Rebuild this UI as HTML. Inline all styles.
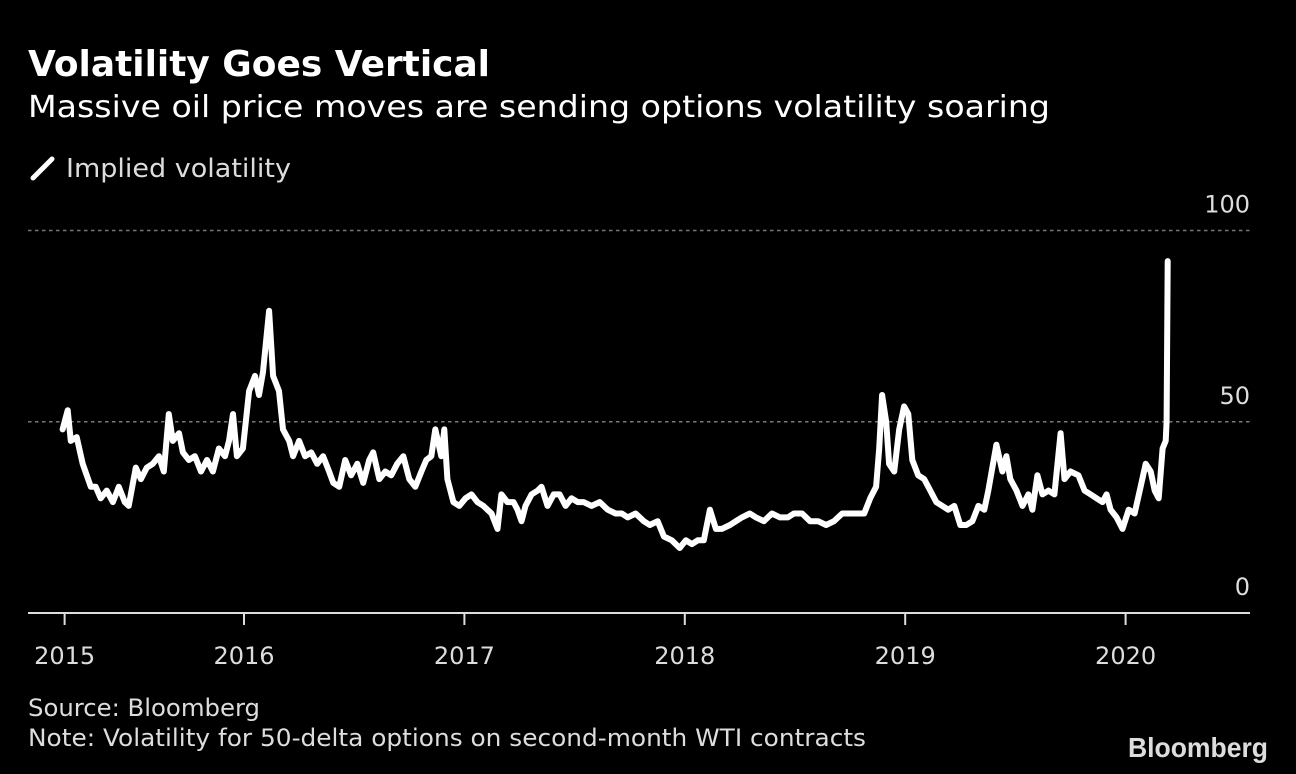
<!DOCTYPE html>
<html><head><meta charset="utf-8"><style>
html,body{margin:0;padding:0;background:#000;}
svg{display:block;}
text{font-family:"DejaVu Sans","Liberation Sans",sans-serif;}
</style></head><body>
<svg id="chart" width="1296" height="774" viewBox="0 0 1296 774" xmlns="http://www.w3.org/2000/svg">
<rect width="1296" height="774" fill="#000"/>
<text x="28" y="76" font-size="36" font-weight="bold" fill="#fff" textLength="462" lengthAdjust="spacingAndGlyphs">Volatility Goes Vertical</text>
<text x="28" y="117" font-size="30" fill="#fff" textLength="1022" lengthAdjust="spacingAndGlyphs">Massive oil price moves are sending options volatility soaring</text>
<line x1="33" y1="178" x2="52" y2="159" stroke="#fff" stroke-width="5" stroke-linecap="round"/>
<text x="66" y="177" font-size="26" fill="#ddd" textLength="225" lengthAdjust="spacingAndGlyphs">Implied volatility</text>
<g id="grid"></g>
<g id="yticks"></g>
<g id="xaxis"></g>
<path id="series" fill="none" stroke="#fff" stroke-width="6" stroke-linejoin="round" stroke-linecap="round"/>
<text x="28" y="716" font-size="24" fill="#ddd" textLength="232" lengthAdjust="spacingAndGlyphs">Source: Bloomberg</text>
<text x="28" y="746" font-size="24" fill="#ddd" textLength="838" lengthAdjust="spacingAndGlyphs">Note: Volatility for 50-delta options on second-month WTI contracts</text>
<text x="1128" y="757" font-size="28" font-weight="bold" fill="#ddd" style="font-family:'Liberation Sans',sans-serif" textLength="140" lengthAdjust="spacingAndGlyphs">Bloomberg</text>
</svg>
<script>
const dates = [2015.177,2015.200,2015.214,2015.241,2015.268,2015.305,2015.327,2015.350,2015.377,2015.405,2015.432,2015.459,2015.477,2015.509,2015.532,2015.559,2015.586,2015.614,2015.636,2015.659,2015.677,2015.705,2015.723,2015.750,2015.777,2015.805,2015.832,2015.859,2015.886,2015.914,2015.932,2015.950,2015.968,2015.995,2016.023,2016.050,2016.068,2016.086,2016.114,2016.132,2016.159,2016.177,2016.205,2016.223,2016.250,2016.277,2016.305,2016.332,2016.359,2016.386,2016.405,2016.432,2016.459,2016.486,2016.514,2016.541,2016.568,2016.586,2016.614,2016.641,2016.668,2016.695,2016.723,2016.750,2016.777,2016.805,2016.827,2016.850,2016.868,2016.895,2016.909,2016.923,2016.950,2016.977,2017.005,2017.032,2017.059,2017.086,2017.123,2017.150,2017.168,2017.195,2017.223,2017.241,2017.259,2017.277,2017.305,2017.332,2017.350,2017.377,2017.405,2017.432,2017.459,2017.486,2017.514,2017.541,2017.577,2017.614,2017.650,2017.686,2017.714,2017.741,2017.777,2017.814,2017.841,2017.877,2017.905,2017.941,2017.977,2018.005,2018.032,2018.059,2018.086,2018.114,2018.141,2018.168,2018.205,2018.232,2018.259,2018.295,2018.323,2018.359,2018.395,2018.432,2018.468,2018.495,2018.532,2018.568,2018.605,2018.641,2018.677,2018.714,2018.750,2018.786,2018.814,2018.841,2018.868,2018.882,2018.895,2018.914,2018.927,2018.950,2018.973,2018.995,2019.014,2019.032,2019.059,2019.086,2019.114,2019.141,2019.168,2019.195,2019.223,2019.250,2019.277,2019.305,2019.332,2019.359,2019.377,2019.414,2019.441,2019.459,2019.477,2019.505,2019.532,2019.559,2019.577,2019.600,2019.623,2019.650,2019.677,2019.705,2019.723,2019.750,2019.786,2019.814,2019.841,2019.868,2019.895,2019.914,2019.932,2019.959,2019.986,2020.014,2020.041,2020.068,2020.091,2020.114,2020.132,2020.150,2020.168,2020.182,2020.186,2020.191];
const vols = [48,53,45,46,39,33,33,30,32,29,33,29,28,38,35,38,39,41,37,52,45,47,42,40,41,37,40,37,43,41,45,52,41,43,58,62,57,63,79,62,58,48,45,41,45,41,42,39,41,37,34,33,40,36,39,34,40,42,35,37,36,39,41,35,33,37,40,41,48,41,48,35,29,28,30,31,29,28,26,22,31,29,29,27,24,28,31,32,33,28,31,31,28,30,29,29,28,29,27,26,26,25,26,24,23,24,20,19,17,19,18,19,19,27,22,22,23,24,25,26,25,24,26,25,25,26,26,24,24,23,24,26,26,26,26,30,33,43,57,50,39,37,48,54,52,40,36,35,32,29,28,27,28,23,23,24,28,27,32,44,37,41,35,32,28,31,27,36,31,32,31,47,35,37,36,32,31,30,29,31,27,25,22,27,26,33,39,37,32,30,43,45,50,92];
const yTicks = [0,50,100];
const xTickYears = [2015,2016,2017,2018,2019,2020];
const xTickLabels = ["2015","2016","2017","2018","2019","2020"];

const NS = "http://www.w3.org/2000/svg";
const X0 = 28, X1 = 1250, Y0 = 613, Y100 = 230.5;
function xScale(t){ return 244 + (t - 2016) * 220.4; }
function yScale(v){ return Y0 + (Y100 - Y0) * v / 100; }
function mk(tag, attrs, parent){ const e = document.createElementNS(NS, tag); for (const k in attrs) e.setAttribute(k, attrs[k]); parent.appendChild(e); return e; }

const grid = document.getElementById('grid');
const yt = document.getElementById('yticks');
yTicks.forEach(v => {
  const y = yScale(v);
  if (v !== 0) {
    const l = mk('line', {x1:X0, x2:X1, y1:y, y2:y, stroke:'#777', 'stroke-width':1.5, 'stroke-dasharray':'3.5 3.5'}, grid);
    
    
  }
  const t = mk('text', {x:X1, y:y - 18, 'text-anchor':'end', 'font-size':24, fill:'#ddd'}, yt);
  t.textContent = String(v);
  
  
});

const xa = document.getElementById('xaxis');
const axisLine = mk('line', {x1:X0, x2:X1, y1:Y0, y2:Y0, stroke:'#ddd', 'stroke-width':2}, xa);


xTickYears.forEach((yr, i) => {
  const x = Math.max(xScale(yr), xScale(dates[0]) + 2);
  const tk = mk('line', {x1:x, x2:x, y1:Y0, y2:Y0 + 12, stroke:'#ddd', 'stroke-width':2}, xa);
  
  
  const lb = mk('text', {x:x, y:664, 'text-anchor':'middle', 'font-size':24, fill:'#ddd'}, xa);
  lb.textContent = xTickLabels[i];
  
  
});

let d = '';
dates.forEach((t, i) => { d += (i ? 'L' : 'M') + xScale(t).toFixed(1) + ' ' + yScale(vols[i]).toFixed(1); });
document.getElementById('series').setAttribute('d', d);
</script>
</body></html>
